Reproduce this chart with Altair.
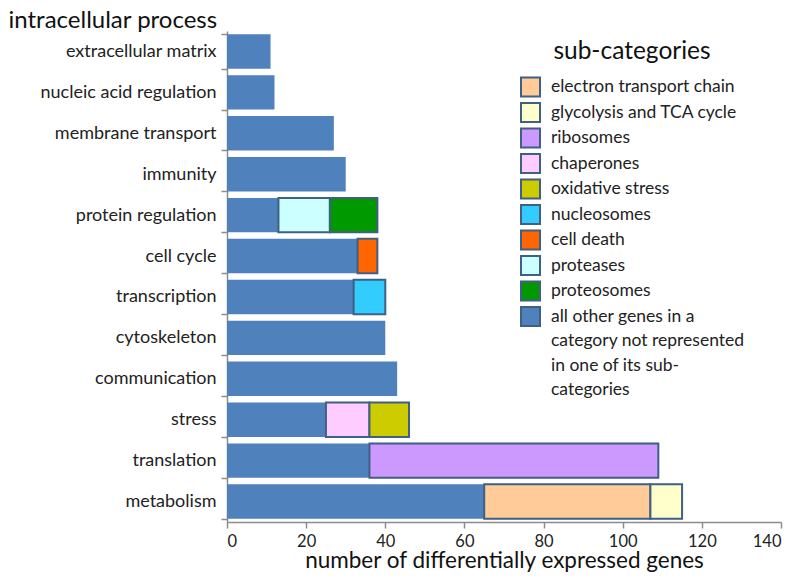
import altair as alt
import pandas as pd

categories = ["extracellular matrix", "nucleic acid regulation", "membrane transport",
              "immunity", "protein regulation", "cell cycle", "transcription",
              "cytoskeleton", "communication", "stress", "translation", "metabolism"]
other_counts = [11, 12, 27, 30, 13, 33, 32, 40, 43, 25, 36, 65]

sub_names = ["proteases", "proteosomes", "cell death", "nucleosomes", "chaperones",
             "oxidative stress", "ribosomes", "electron transport chain",
             "glycolysis and TCA cycle"]
sub_parent = ["protein regulation", "protein regulation", "cell cycle", "transcription",
              "stress", "stress", "translation", "metabolism", "metabolism"]
sub_counts = [13, 12, 5, 8, 11, 10, 73, 42, 8]

OTHER = "all other genes in a\ncategory not represented\nin one of its sub-\ncategories"
legend_order = ["electron transport chain", "glycolysis and TCA cycle", "ribosomes",
                "chaperones", "oxidative stress", "nucleosomes", "cell death",
                "proteases", "proteosomes", OTHER]
legend_colors = ["#FFCC99", "#FFFFCC", "#CC99FF", "#FFCCFF", "#CCCC00", "#33CCFF",
                 "#FF6600", "#CCFFFF", "#009900", "#4F81BD"]

rows = []
for c, v in zip(categories, other_counts):
    rows.append({"category": c, "sub": OTHER, "count": v, "seg": 0})
for i, (s, p, v) in enumerate(zip(sub_names, sub_parent, sub_counts)):
    rows.append({"category": p, "sub": s, "count": v, "seg": i + 1})
df = pd.DataFrame(rows)

FONT = "Lato"

chart = alt.Chart(df).mark_bar(stroke="#3F5F85").encode(
    y=alt.Y("category:N", sort=categories,
            scale=alt.Scale(paddingInner=0.16, paddingOuter=0.08),
            axis=alt.Axis(title="intracellular process", titleAngle=0, titleAlign="left",
                          titleBaseline="alphabetic", titleX=-219, titleY=-4,
                          titleFontSize=24, titleFontWeight="normal", titleColor="#111",
                          labelFontSize=18, labelColor="#222", labelPadding=5,
                          tickBand="extent", tickSize=6, tickColor="#8c8c8c",
                          domainColor="#8c8c8c", domainWidth=1.5, tickWidth=1.5)),
    x=alt.X("count:Q", stack="zero",
            scale=alt.Scale(domain=[0, 140]),
            axis=alt.Axis(title="number of differentially expressed genes",
                          values=[0, 20, 40, 60, 80, 100, 120, 140],
                          titleFontSize=22.5, titleFontWeight="normal", titleColor="#111",
                          titlePadding=0,
                          labelFontSize=16.5, labelColor="#222", labelPadding=5,
                          tickSize=6, tickColor="#8c8c8c", domainColor="#8c8c8c",
                          domainWidth=1.5, tickWidth=1.5, grid=False)),
    color=alt.Color("sub:N",
                    scale=alt.Scale(domain=legend_order, range=legend_colors),
                    legend=alt.Legend(title="sub-categories", titleAnchor="middle",
                                      orient="none", legendX=293, legendY=9,
                                      titleFontSize=24.5, titleFontWeight="normal",
                                      titleColor="#111", titleBaseline="top",
                                      titlePadding=12, titleLimit=400,
                                      labelFontSize=17.5, labelColor="#222",
                                      labelLimit=400, labelOffset=10,
                                      labelExpr="split(datum.label, '\\n')",
                                      symbolType="square", symbolSize=361,
                                      symbolStrokeColor="#3F5F85", symbolStrokeWidth=2,
                                      rowPadding=-1.5, padding=0)),
    order=alt.Order("seg:Q"),
    strokeWidth=alt.condition(alt.datum.seg == 0, alt.value(0), alt.value(2)),
).properties(
    width=554, height=491,
    autosize=alt.AutoSizeParams(type="none"),
    padding={"left": 219, "top": 23, "right": 11, "bottom": 50},
).configure(
    font=FONT,
    style={"guide-label": {"lineHeight": 24.5}},
).configure_view(strokeWidth=0)

chart.save("out.html", embed_options={"renderer": "svg", "actions": False})
